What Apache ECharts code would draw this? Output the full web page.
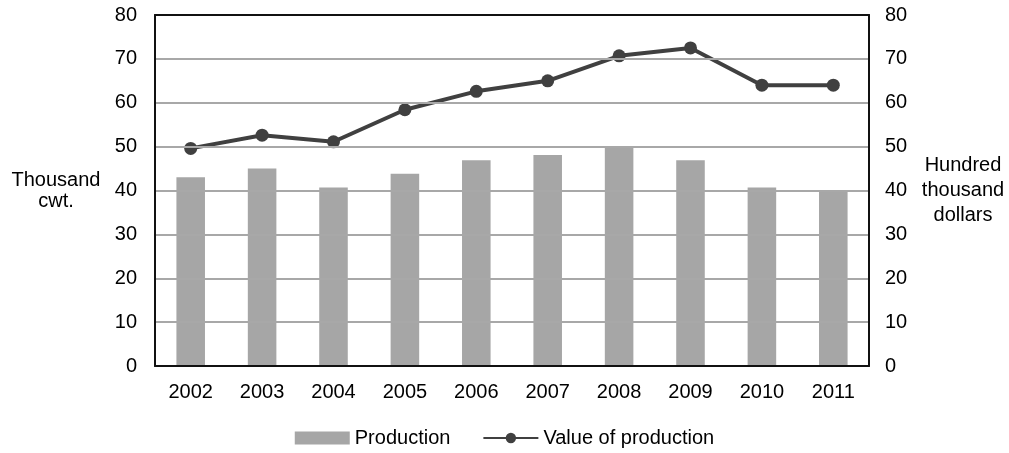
<!DOCTYPE html>
<html>
<head>
<meta charset="utf-8">
<script src="https://cdn.jsdelivr.net/npm/echarts@6/dist/echarts.min.js"></script>
<style>html,body{margin:0;padding:0;background:#fff}#c{width:1009px;height:453px}</style>
</head>
<body>
<div id="c"></div>
<script>
const years = ['2002','2003','2004','2005','2006','2007','2008','2009','2010','2011'];
const production = [43.0, 45.0, 40.7, 43.8, 46.9, 48.1, 49.7, 46.9, 40.7, 40.0];
const valueOfProduction = [49.6, 52.6, 51.1, 58.4, 62.6, 65.0, 70.7, 72.5, 64.0, 64.0];
const leftTicks = [0, 80, 10];
const axisNameLeft = 'Thousand\ncwt.';
const axisNameRight = 'Hundred\nthousand\ndollars';

const chart = echarts.init(document.getElementById('c'), null, {renderer: 'canvas'});
const font = {fontFamily: 'Liberation Sans, Arial, sans-serif', fontSize: 20, color: '#000'};
const darkLine = {show: true, onZero: false, lineStyle: {color: '#111', width: 2}};
chart.setOption({
  animation: false,
  grid: {left: 155, right: 140, top: 15, bottom: 87},
  legend: {
    bottom: 0, left: 'center', itemGap: 32, itemWidth: 55, itemHeight: 13,
    textStyle: Object.assign({}, font),
    data: [
      {name: 'Production', icon: 'rect'},
      {name: 'Value of production'}
    ]
  },
  xAxis: [
    {
      type: 'category', data: years, z: 5,
      axisLine: darkLine,
      axisTick: {show: false},
      axisLabel: Object.assign({}, font, {margin: 16})
    },
    {
      type: 'category', data: years, position: 'top', z: 5,
      axisLine: darkLine,
      axisTick: {show: false},
      axisLabel: {show: false}
    }
  ],
  yAxis: [
    {
      type: 'value', min: leftTicks[0], max: leftTicks[1], interval: leftTicks[2], z: 4,
      name: axisNameLeft, nameLocation: 'middle', nameRotate: 0, nameGap: 99,
      nameTextStyle: Object.assign({}, font, {align: 'center', lineHeight: 21}),
      axisLine: darkLine,
      axisTick: {show: false},
      axisLabel: Object.assign({}, font, {margin: 18}),
      splitLine: {show: true, lineStyle: {color: '#a8a8a8', width: 2}}
    },
    {
      type: 'value', min: leftTicks[0], max: leftTicks[1], interval: leftTicks[2], z: 5,
      name: axisNameRight, nameLocation: 'middle', nameRotate: 0, nameGap: 94,
      nameTextStyle: Object.assign({}, font, {align: 'center', lineHeight: 25}),
      position: 'right',
      axisLine: darkLine,
      axisTick: {show: false},
      axisLabel: Object.assign({}, font, {margin: 16}),
      splitLine: {show: false}
    }
  ],
  series: [
    {
      name: 'Production', type: 'bar', data: production, barWidth: '40%',
      itemStyle: {color: '#a6a6a6'}
    },
    {
      name: 'Value of production', type: 'line', yAxisIndex: 1, data: valueOfProduction,
      symbol: 'circle', symbolSize: 13,
      lineStyle: {color: '#404040', width: 4},
      itemStyle: {color: '#404040'}
    }
  ]
});
</script>
</body>
</html>
